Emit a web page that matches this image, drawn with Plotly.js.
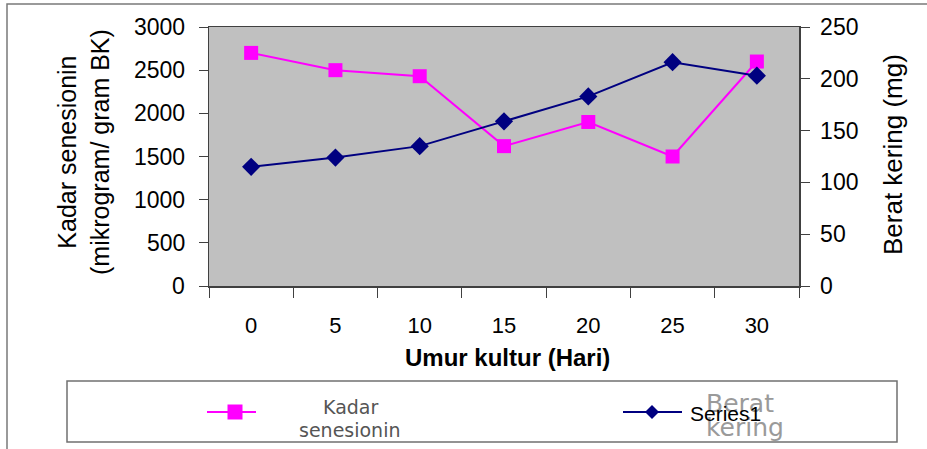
<!DOCTYPE html>
<html>
<head>
<meta charset="utf-8">
<script src="https://cdn.plot.ly/plotly-3.0.1.min.js"></script>
<style>
  html, body { margin: 0; padding: 0; background: #ffffff; }
  #chart { width: 927px; height: 449px; }
</style>
</head>
<body>
<div id="chart"></div>
<script>
// ---- data ----
const days = ["0", "5", "10", "15", "20", "25", "30"];
const kadarSenesionin = [2700, 2500, 2430, 1620, 1900, 1500, 2600];   // left axis
const beratKering = [115, 124, 135, 159, 183, 216, 203];              // right axis
const leftTicks = [0, 500, 1000, 1500, 2000, 2500, 3000];
const rightTicks = [0, 50, 100, 150, 200, 250];
const seriesNames = ["Kadar senesionin", "Berat kering"];
const legendLabel1 = ["Kadar", "senesionin"];
const legendLabel2 = ["Berat", "kering"];
const legendOverlay = "Series1";
const xTitle = "Umur kultur (Hari)";
const yTitle = "Kadar senesionin<br>(mikrogram/ gram BK)";
const y2Title = "Berat kering (mg)";

// ---- layout geometry (pixels) ----
const W = 927, H = 449;
const PL = 209, PR = 799, PT = 27, PB = 286;
const px = v => (v - PL) / (PR - PL);
const py = v => (PB - v) / (PB - PT);

const FONT = "Liberation Sans, Arial, sans-serif";
const axisCol = "#404040";

const traces = [
  {
    x: days, y: kadarSenesionin, name: seriesNames[0], type: "scatter", mode: "lines+markers",
    yaxis: "y", line: { color: "#ff00ff", width: 2 },
    marker: { symbol: "square", size: 14, color: "#ff00ff" }, showlegend: false
  },
  {
    x: days, y: beratKering, name: seriesNames[1], type: "scatter", mode: "lines+markers",
    yaxis: "y2", line: { color: "#000080", width: 2 },
    marker: { symbol: "diamond", size: 14, color: "#000080" }, showlegend: false
  }
];

const ann = (text, x, y, size, color, family, xanchor) => ({
  text, xref: "paper", yref: "paper", x: px(x), y: py(y), xanchor: xanchor || "center", yanchor: "middle",
  showarrow: false, font: { size, color, family: family || FONT }
});

// left-axis tick labels placed on the y scale
const leftTickLabels = leftTicks.map(v => ({
  text: String(v), xref: "paper", yref: "y", x: px(187), y: v, xanchor: "right", yanchor: "middle",
  showarrow: false, font: { size: 23, family: FONT, color: "#000" }
}));

const layout = {
  width: W, height: H,
  margin: { l: PL, r: W - PR, t: PT, b: H - PB, pad: 0 },
  paper_bgcolor: "#ffffff",
  plot_bgcolor: "#c0c0c0",
  font: { family: FONT, color: "#000000", size: 22 },
  showlegend: false,
  xaxis: {
    type: "category", range: [-0.5, days.length - 0.5],
    showgrid: false, zeroline: false,
    showline: true, linecolor: axisCol, linewidth: 1.5, mirror: true,
    ticks: "outside", tickson: "boundaries", ticklen: 10, tickcolor: axisCol, tickwidth: 1,
    tickfont: { size: 22, family: FONT }, ticklabelstandoff: 19
  },
  yaxis: {
    range: [0, 3000], tickvals: leftTicks, showticklabels: false,
    showgrid: false, zeroline: false,
    showline: true, linecolor: axisCol, linewidth: 1.5, mirror: true,
    ticks: "outside", ticklen: 9, tickcolor: axisCol, tickwidth: 1
  },
  yaxis2: {
    range: [0, 250], tickvals: rightTicks, overlaying: "y", side: "right",
    showgrid: false, zeroline: false,
    showline: true, linecolor: axisCol, linewidth: 1.5,
    ticks: "outside", ticklen: 9, tickcolor: axisCol, tickwidth: 1,
    tickfont: { size: 23, family: FONT }, ticklabelstandoff: 6
  },
  shapes: [
    // outer chart frame
    { type: "rect", xref: "paper", yref: "paper", x0: px(7), x1: px(960), y0: py(480), y1: py(4),
      line: { color: "#7a7a7a", width: 1.5 }, fillcolor: "rgba(0,0,0,0)", layer: "below" },
    // legend box
    { type: "rect", xref: "paper", yref: "paper", x0: px(67), x1: px(897), y0: py(442), y1: py(381),
      line: { color: "#707070", width: 1.5 }, fillcolor: "rgba(0,0,0,0)" },
    // legend swatch 1
    { type: "line", xref: "paper", yref: "paper", x0: px(207), x1: px(256), y0: py(412), y1: py(412),
      line: { color: "#ff00ff", width: 2 } },
    { type: "rect", xref: "paper", yref: "paper", xsizemode: "pixel", ysizemode: "pixel",
      xanchor: px(235), yanchor: py(412), x0: -7.5, x1: 7.5, y0: -7.5, y1: 7.5,
      fillcolor: "#ff00ff", line: { width: 0 } },
    // legend swatch 2
    { type: "line", xref: "paper", yref: "paper", x0: px(623), x1: px(682), y0: py(412), y1: py(412),
      line: { color: "#000080", width: 2 } },
    { type: "path", xref: "paper", yref: "paper", xsizemode: "pixel", ysizemode: "pixel",
      xanchor: px(652), yanchor: py(412), path: "M -7 0 L 0 7 L 7 0 L 0 -7 Z",
      fillcolor: "#000080", line: { width: 0 } }
  ],
  annotations: [
    Object.assign(ann(yTitle, 83, 152, 25, "#000"), { textangle: -90 }),
    Object.assign(ann(y2Title, 893, 155, 26, "#000"), { textangle: -90 }),
    ann("<b>" + xTitle + "</b>", 507, 357, 24, "#000"),
    ann(legendLabel1[0], 350, 407, 19, "#555555", "DejaVu Sans, sans-serif"),
    ann(legendLabel1[1], 350, 430, 19, "#555555", "DejaVu Sans, sans-serif"),
    ann(legendLabel2[0], 740, 403, 25, "#9a9a9a", "DejaVu Sans, sans-serif"),
    ann(legendLabel2[1], 745, 427, 25, "#9a9a9a", "DejaVu Sans, sans-serif"),
    ann(legendOverlay, 688, 413, 21, "#000000", FONT, "left")
  ].concat(leftTickLabels)
};

Plotly.newPlot("chart", traces, layout, { displayModeBar: false, staticPlot: true });
</script>
</body>
</html>
